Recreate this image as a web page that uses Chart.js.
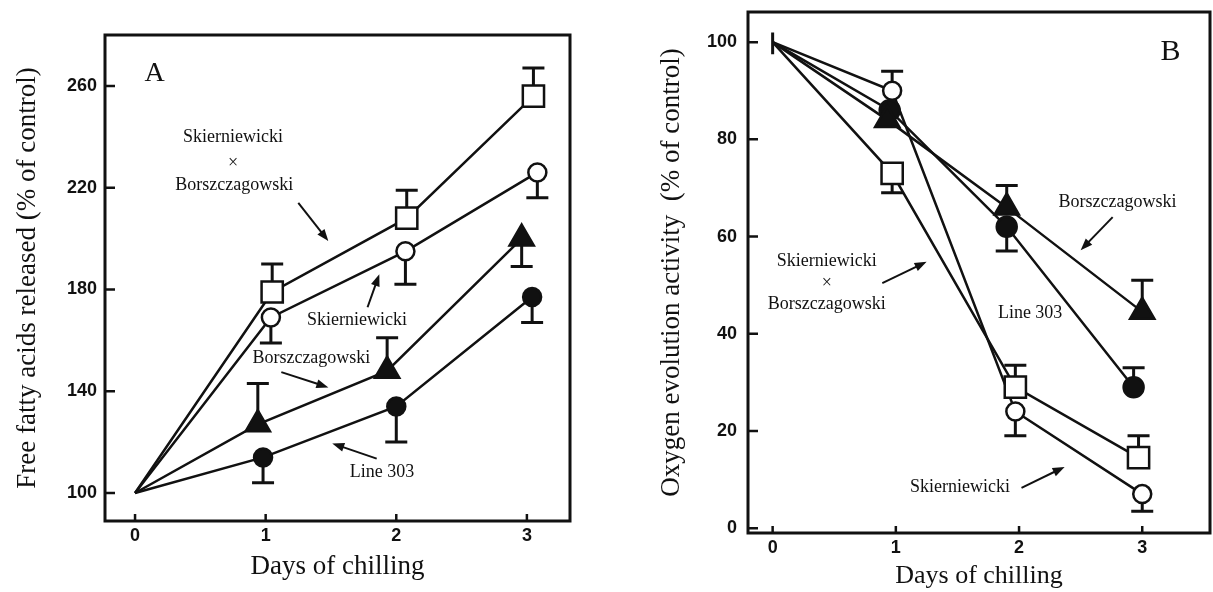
<!DOCTYPE html>
<html>
<head>
<meta charset="utf-8">
<script src="https://cdn.jsdelivr.net/npm/chart.js@4/dist/chart.umd.min.js"></script>
<style>
  html, body { margin: 0; padding: 0; background: #fff; }
  #wrap { position: relative; width: 1213px; height: 592px; }
  .panel { position: absolute; top: 0; height: 592px; }
  #panelA { left: 0; width: 600px; }
  #panelB { left: 600px; width: 613px; }
</style>
</head>
<body>
<div id="wrap">
  <div class="panel" id="panelA"><canvas id="chartA"></canvas></div>
  <div class="panel" id="panelB"><canvas id="chartB"></canvas></div>
</div>
<script>
// Tick labels
const dayTicks = [0, 1, 2, 3];
const yTicksA = [100, 140, 180, 220, 260];
const yTicksB = [0, 20, 40, 60, 80, 100];

// Panel A - free fatty acids released (% of control)
const sxbDaysA = [0, 1.05, 2.08, 3.05];
const sxbA = [100, 179, 208, 256];
const sxbErrA = [null, 190, 219, 267];

const skiDaysA = [0, 1.04, 2.07, 3.08];
const skiA = [100, 169, 195, 226];
const skiErrA = [null, 159, 182, 216];

const borDaysA = [0, 0.94, 1.93, 2.96];
const borA = [100, 127, 148, 200];
const borErrA = [null, 143, 161, 189];

const l303DaysA = [0, 0.98, 2.0, 3.04];
const l303A = [100, 114, 134, 177];
const l303ErrA = [null, 104, 120, 167];

// Panel B - oxygen evolution activity (% of control)
const sxbDaysB = [0, 0.97, 1.97, 2.97];
const sxbB = [100, 73, 29, 14.5];
const sxbErrB = [97.5, 69, 33.5, 19];

const skiDaysB = [0, 0.97, 1.97, 3.0];
const skiB = [100, 90, 24, 7];
const skiErrB = [102, 94, 19, 3.5];

const borDaysB = [0, 0.93, 1.9, 3.0];
const borB = [100, 84, 66, 44.5];
const borErrB = [null, null, 70.5, 51];

const l303DaysB = [0, 0.95, 1.9, 2.93];
const l303B = [100, 86, 62, 29];
const l303ErrB = [null, null, 57, 33];

const INK = '#111';

function toPoints(xs, ys) {
    return xs.map((x, i) => ({ x, y: ys[i] }));
}

function series(label, xs, ys, errEnd, style, radius, filled) {
    return {
        label,
        data: toPoints(xs, ys),
        errEnd,
        borderColor: INK,
        borderWidth: 2.5,
        pointStyle: style,
        pointRadius: (ctx) => ctx.dataIndex === 0 ? 0 : radius,
        pointBorderWidth: 2.5,
        pointBorderColor: INK,
        pointBackgroundColor: filled ? INK : '#fff',
        showLine: true,
        tension: 0
    };
}

// Box round the plot area, ticks pointing inwards
const framePlugin = {
    id: 'frame',
    afterDraw(chart) {
        const { ctx, chartArea: a, scales: { x, y } } = chart;
        ctx.save();
        ctx.strokeStyle = INK;
        ctx.lineWidth = 3;
        ctx.strokeRect(a.left, a.top, a.right - a.left, a.bottom - a.top);
        ctx.lineWidth = 2.5;
        ctx.beginPath();
        y.ticks.forEach(t => {
            const py = y.getPixelForValue(t.value);
            ctx.moveTo(a.left, py);
            ctx.lineTo(a.left + 10, py);
        });
        x.ticks.forEach(t => {
            const px = x.getPixelForValue(t.value);
            ctx.moveTo(px, a.bottom);
            ctx.lineTo(px, a.bottom - 7);
        });
        ctx.stroke();
        ctx.restore();
    }
};

// One-sided error bars, drawn under the markers
const errorBarPlugin = {
    id: 'errorBars',
    beforeDatasetsDraw(chart) {
        const { ctx, scales: { x, y } } = chart;
        ctx.save();
        ctx.strokeStyle = INK;
        ctx.lineWidth = 3;
        ctx.beginPath();
        chart.data.datasets.forEach(ds => {
            (ds.errEnd || []).forEach((end, i) => {
                if (end == null) return;
                const px = x.getPixelForValue(ds.data[i].x);
                const p0 = y.getPixelForValue(ds.data[i].y);
                const p1 = y.getPixelForValue(end);
                const cap = i === 0 ? 0 : 11;
                ctx.moveTo(px, p0);
                ctx.lineTo(px, p1);
                if (cap) {
                    ctx.moveTo(px - cap, p1);
                    ctx.lineTo(px + cap, p1);
                }
            });
        });
        ctx.stroke();
        ctx.restore();
    }
};

// Text labels and arrows inside the plot
const notesPlugin = {
    id: 'notes',
    afterDatasetsDraw(chart, args, opts) {
        const { ctx, scales: { x, y } } = chart;
        ctx.save();
        ctx.fillStyle = INK;
        ctx.strokeStyle = INK;
        ctx.textAlign = 'center';
        ctx.textBaseline = 'middle';
        (opts.texts || []).forEach(n => {
            ctx.font = (n.size || 18) + 'px "Liberation Serif"';
            ctx.fillText(n.t, x.getPixelForValue(n.x), y.getPixelForValue(n.y));
        });
        ctx.lineWidth = 2;
        (opts.arrows || []).forEach(([from, to]) => {
            const x0 = x.getPixelForValue(from[0]), y0 = y.getPixelForValue(from[1]);
            const x1 = x.getPixelForValue(to[0]), y1 = y.getPixelForValue(to[1]);
            const ang = Math.atan2(y1 - y0, x1 - x0);
            ctx.beginPath();
            ctx.moveTo(x0, y0);
            ctx.lineTo(x1 - 6 * Math.cos(ang), y1 - 6 * Math.sin(ang));
            ctx.stroke();
            ctx.beginPath();
            ctx.moveTo(x1, y1);
            ctx.lineTo(x1 - 12 * Math.cos(ang) + 4.5 * Math.sin(ang), y1 - 12 * Math.sin(ang) - 4.5 * Math.cos(ang));
            ctx.lineTo(x1 - 12 * Math.cos(ang) - 4.5 * Math.sin(ang), y1 - 12 * Math.sin(ang) + 4.5 * Math.cos(ang));
            ctx.closePath();
            ctx.fill();
        });
        ctx.restore();
    }
};

// Drop the extra room Chart.js keeps for edge tick labels
function noEdgePadding(s) {
    s.paddingTop = 0;
    s.paddingBottom = 0;
    s.paddingLeft = 0;
    s.paddingRight = 0;
}

function makeChart(id, cfg) {
    return new Chart(document.getElementById(id), {
        type: 'scatter',
        data: { datasets: cfg.datasets },
        plugins: [framePlugin, errorBarPlugin, notesPlugin],
        options: {
            responsive: true,
            maintainAspectRatio: false,
            animation: false,
            layout: { padding: cfg.padding, autoPadding: false },
            plugins: {
                legend: { display: false },
                tooltip: { enabled: false },
                notes: cfg.notes
            },
            scales: {
                x: {
                    type: 'linear',
                    min: cfg.xMin,
                    max: cfg.xMax,
                    afterBuildTicks: s => { s.ticks = dayTicks.map(v => ({ value: v })); },
                    afterFit: s => { s.height = cfg.xHeight; noEdgePadding(s); },
                    grid: { display: false, drawTicks: false },
                    border: { display: false },
                    ticks: {
                        autoSkip: false,
                        maxRotation: 0,
                        color: INK,
                        padding: 4,
                        font: { family: 'Liberation Sans', weight: 'bold', size: cfg.tickSize }
                    },
                    title: {
                        display: true,
                        text: 'Days of chilling',
                        color: INK,
                        font: { family: 'Liberation Serif', size: cfg.titleSize },
                        padding: { top: 0, bottom: cfg.xTitlePad }
                    }
                },
                y: {
                    type: 'linear',
                    min: cfg.yMin,
                    max: cfg.yMax,
                    afterBuildTicks: s => { s.ticks = cfg.yTicks.map(v => ({ value: v })); },
                    afterFit: s => { s.width = cfg.yWidth; noEdgePadding(s); },
                    grid: { display: false, drawTicks: false },
                    border: { display: false },
                    ticks: {
                        color: INK,
                        padding: cfg.yTickPad,
                        font: { family: 'Liberation Sans', weight: 'bold', size: cfg.tickSize }
                    },
                    title: {
                        display: true,
                        text: cfg.yTitle,
                        color: INK,
                        font: { family: 'Liberation Serif', size: 27 },
                        padding: { top: cfg.yTitlePad, bottom: 0 }
                    }
                }
            }
        }
    });
}

makeChart('chartA', {
    datasets: [
        series('Line 303', l303DaysA, l303A, l303ErrA, 'circle', 9, true),
        series('Borszczagowski', borDaysA, borA, borErrA, 'triangle', 14, true),
        series('Skierniewicki', skiDaysA, skiA, skiErrA, 'circle', 9, false),
        series('Skierniewicki x Borszczagowski', sxbDaysA, sxbA, sxbErrA, 'rect', 15, false)
    ],
    padding: { left: 0, top: 35, right: 30, bottom: 0 },
    xMin: -0.23, xMax: 3.33, xHeight: 71, xTitlePad: 9,
    yMin: 89, yMax: 280, yTicks: yTicksA, yWidth: 105, yTickPad: 8, yTitlePad: 12,
    yTitle: 'Free fatty acids released (% of control)',
    tickSize: 18, titleSize: 27,
    notes: {
        texts: [
            { t: 'A', x: 0.15, y: 265, size: 28 },
            { t: 'Skierniewicki', x: 0.75, y: 240 },
            { t: '×', x: 0.75, y: 229.5 },
            { t: 'Borszczagowski', x: 0.76, y: 221 },
            { t: 'Skierniewicki', x: 1.70, y: 168 },
            { t: 'Borszczagowski', x: 1.35, y: 153 },
            { t: 'Line 303', x: 1.89, y: 108 }
        ],
        arrows: [
            [[1.25, 214], [1.48, 199]],
            [[1.78, 173], [1.87, 186]],
            [[1.12, 147.5], [1.48, 141.5]],
            [[1.85, 113.5], [1.51, 119.5]]
        ]
    }
});

makeChart('chartB', {
    datasets: [
        series('Borszczagowski', borDaysB, borB, borErrB, 'triangle', 14, true),
        series('Line 303', l303DaysB, l303B, l303ErrB, 'circle', 10, true),
        series('Skierniewicki x Borszczagowski', sxbDaysB, sxbB, sxbErrB, 'rect', 15, false),
        series('Skierniewicki', skiDaysB, skiB, skiErrB, 'circle', 9, false)
    ],
    padding: { left: 0, top: 12, right: 3, bottom: 0 },
    xMin: -0.2, xMax: 3.55, xHeight: 59, xTitlePad: 0,
    yMin: -1, yMax: 106.2, yTicks: yTicksB, yWidth: 148, yTickPad: 11, yTitlePad: 56,
    yTitle: 'Oxygen evolution activity  (% of control)',
    tickSize: 18, titleSize: 26,
    notes: {
        texts: [
            { t: 'B', x: 3.23, y: 98, size: 30 },
            { t: 'Borszczagowski', x: 2.80, y: 67 },
            { t: 'Skierniewicki', x: 0.44, y: 55 },
            { t: '×', x: 0.44, y: 50.4 },
            { t: 'Borszczagowski', x: 0.44, y: 46 },
            { t: 'Line 303', x: 2.09, y: 44.3 },
            { t: 'Skierniewicki', x: 1.52, y: 8.5 }
        ],
        arrows: [
            [[2.76, 64], [2.50, 57.2]],
            [[0.89, 50.4], [1.25, 54.8]],
            [[2.02, 8.3], [2.37, 12.6]]
        ]
    }
});
</script>
</body>
</html>
